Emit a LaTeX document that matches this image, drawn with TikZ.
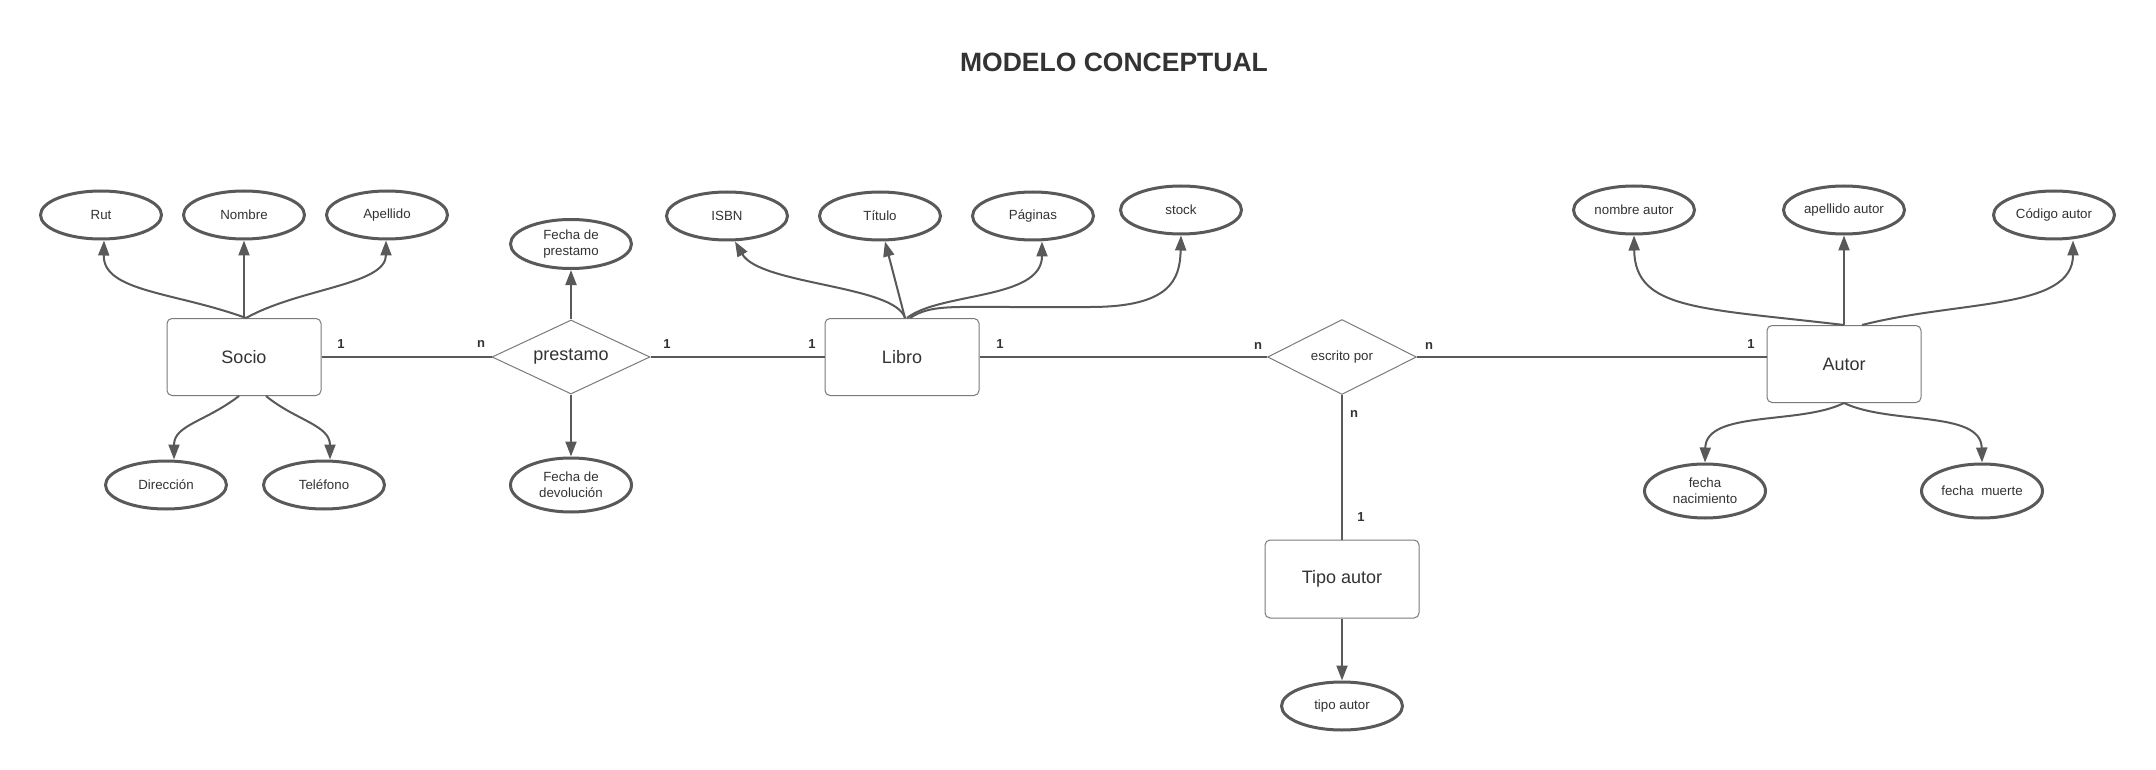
\documentclass[tikz,border=0pt]{standalone}
\usepackage{fontspec}
\setmainfont{Liberation Sans}
\usetikzlibrary{shapes.geometric,arrows.meta}
\definecolor{ln}{HTML}{595959}
\definecolor{txt}{HTML}{333333}
\definecolor{bx}{HTML}{7A7A7A}
\begin{document}
\begin{tikzpicture}[x=1pt,y=-1pt,
 attr/.style={ellipse,draw=ln,line width=3pt,minimum width=121pt,minimum height=48pt,inner sep=0pt,align=center,text=txt,font=\fontsize{13.3}{16}\selectfont},
 entity/.style={rectangle,rounded corners=5pt,draw=bx,line width=1pt,minimum width=154pt,minimum height=77pt,text=txt,font=\fontsize{18}{21}\selectfont},
 rel/.style={diamond,aspect=2.1,draw=bx,line width=1pt,inner sep=0pt,text=txt},
 card/.style={text=txt,font=\fontsize{13}{15}\selectfont\bfseries,inner sep=0pt},
 conn/.style={draw=ln,line width=2pt},
 arr/.style={conn,-{Triangle[length=15pt,width=11pt]}},
]
\fill[white] (0,0) rectangle (2156,770);
\useasboundingbox (0,0) rectangle (2156,770);

\node[font=\fontsize{26.5}{30}\selectfont\bfseries,text=txt] (title) at (1114,62) {MODELO CONCEPTUAL};

% entities and relations
\node[entity] (socio) at (244,357) {Socio};
\node[rel,minimum width=158pt,minimum height=74pt,font=\fontsize{18}{21}\selectfont] (prestamo) at (571,357) {prestamo};
\node[entity] (libro) at (902,357) {Libro};
\node[rel,minimum width=149pt,minimum height=75pt,font=\fontsize{13.3}{16}\selectfont] (escrito) at (1342,357) {escrito por};
\node[entity] (autor) at (1844,364) {Autor};
\node[entity,minimum height=78pt] (tipo) at (1342,579) {Tipo autor};

% attributes
\node[attr] (rut) at (101,215) {Rut};
\node[attr] (nombre) at (244,215) {Nombre};
\node[attr] (apellido) at (387,215) {Apellido};
\node[attr] (direccion) at (166,485) {Dirección};
\node[attr] (telefono) at (324,485) {Teléfono};
\node[attr,minimum height=49pt] (fprest) at (571,244) {Fecha de\\prestamo};
\node[attr,minimum height=54pt] (fdev) at (571,485) {Fecha de\\devolución};
\node[attr] (isbn) at (727,216) {ISBN};
\node[attr] (titulo) at (880,216) {Título};
\node[attr] (paginas) at (1033,216) {Páginas};
\node[attr] (stock) at (1181,210) {stock};
\node[attr] (nautor) at (1634,210) {nombre autor};
\node[attr] (aautor) at (1844,210) {apellido autor};
\node[attr] (cautor) at (2054,215) {Código autor};
\node[attr,minimum height=54pt] (fnac) at (1705,491) {fecha\\nacimiento};
\node[attr,minimum height=54pt] (fmuerte) at (1982,491) {fecha\ \ muerte};
\node[attr] (tipoattr) at (1342,706) {tipo autor};

% relationship lines
\draw[conn] (socio) -- (prestamo);
\draw[conn] (prestamo) -- (libro);
\draw[conn] (libro) -- (escrito);
\draw[conn] (escrito.east) -- (escrito.east -| autor.west);
\draw[conn] (escrito) -- (tipo);

% cardinalities
\node[card] (c1) at (341,344) {1};
\node[card] (c2) at (481,344) {n};
\node[card] (c3) at (667,344) {1};
\node[card] (c4) at (812,344) {1};
\node[card] (c5) at (1000,344) {1};
\node[card] (c6) at (1258,346) {n};
\node[card] (c7) at (1429,346) {n};
\node[card] (c8) at (1751,344) {1};
\node[card] (c9) at (1354,414) {n};
\node[card] (c10) at (1361,517) {1};

% attribute arrows: Socio
\draw[arr] ([xshift=2pt]socio.north) .. controls (175,292) and (103,292) .. ([xshift=3pt]rut.south);
\draw[arr] (socio.north) -- (nombre);
\draw[arr] ([xshift=2pt]socio.north) .. controls (300,288) and (386,285) .. ([xshift=-1pt]apellido.south);
\draw[arr] ([xshift=-5pt]socio.south) .. controls (205,422) and (174,425) .. ([xshift=8pt]direccion.north);
\draw[arr] ([xshift=22pt]socio.south) .. controls (295,420) and (330,425) .. ([xshift=6pt]telefono.north);

% prestamo
\draw[arr] (prestamo) -- (fprest);
\draw[arr] (prestamo) -- (fdev);

% Libro
\draw[arr] ([xshift=3pt]libro.north) .. controls (895,285) and (760,285) .. ([xshift=8pt]isbn.south);
\draw[arr] ([xshift=3pt]libro.north) -- ([xshift=5pt]titulo.south);
\draw[arr] ([xshift=5pt]libro.north) .. controls (940,292) and (1042,300) .. ([xshift=9pt]paginas.south);
\draw[arr] ([xshift=8pt]libro.north) .. controls (930,305) and (950,307) .. (1010,307) -- (1090,307) .. controls (1170,307) and (1180,280) .. (stock.south);

% Autor
\draw[arr] (autor.north) .. controls (1700,308) and (1635,310) .. (nautor.south);
\draw[arr] (autor.north) -- (aautor);
\draw[arr] ([xshift=18pt]autor.north) .. controls (1960,300) and (2073,310) .. ([xshift=19pt]cautor.south);
\draw[arr] (autor.south) .. controls (1800,425) and (1706,410) .. (fnac.north);
\draw[arr] (autor.south) .. controls (1890,425) and (1981,410) .. (fmuerte.north);

% Tipo autor
\draw[arr] (tipo) -- (tipoattr);
\end{tikzpicture}
\end{document}
